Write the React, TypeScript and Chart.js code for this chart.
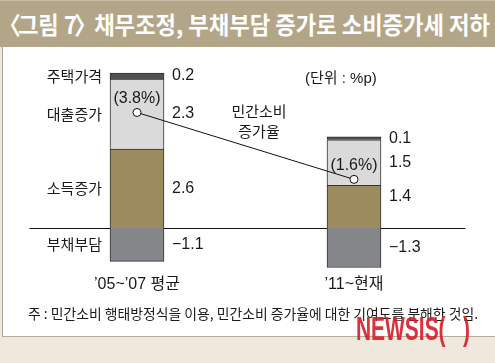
import React, { useEffect, useLayoutEffect, useRef } from "react";
import { Chart, registerables } from "chart.js";

Chart.register(...registerables);

const categories = ["’05~’07 평균", "’11~현재"];
const seriesNames = ["부채부담", "소득증가", "대출증가", "주택가격"];
const debtBurden = [-1.1, -1.3];
const incomeGrowth = [2.6, 1.4];
const loanGrowth = [2.3, 1.5];
const housePrice = [0.2, 0.1];
const consumptionGrowth = [3.8, 1.6];
const yMin = -1.5;
const yMax = 5.5;

const titleMain = "그림 7";
const titleRest = " 채무조정, 부채부담 증가로 소비증가세 저하";
const noteText = "주 : 민간소비 행태방정식을 이용, 민간소비 증가율에 대한 기여도를 분해한 것임.";

const seriesColors = ["#85868a", "#9c8b5e", "#dadada", "#505050"];

const fmt = (v: number) => (v < 0 ? "−" + Math.abs(v).toFixed(1) : v.toFixed(1));

const labelPlugin = {
  id: "labelPlugin",
  beforeDatasetsDraw(chart: any) {
    const ctx = chart.ctx;
    const y0 = chart.scales.y.getPixelForValue(0);
    const area = chart.chartArea;
    ctx.save();
    ctx.strokeStyle = "#111";
    ctx.lineWidth = 1;
    ctx.beginPath();
    ctx.moveTo(area.left + 1, Math.round(y0) + 0.5);
    ctx.lineTo(area.right + 3, Math.round(y0) + 0.5);
    ctx.stroke();
    ctx.restore();
  },
  afterDatasetsDraw(chart: any) {
    const ctx = chart.ctx;
    const shifts: Record<string, number> = { "1-1": -10 };
    ctx.save();
    ctx.fillStyle = "#1a1a1a";
    ctx.textBaseline = "middle";
    for (let i = 0; i < chart.data.datasets.length; i++) {
      const ds = chart.data.datasets[i];
      if (ds.type !== "bar") continue;
      const meta = chart.getDatasetMeta(i);
      meta.data.forEach((el: any, j: number) => {
        const p = el.getProps(["x", "y", "base", "width"], true);
        const yc = (p.y + p.base) / 2 + (shifts[`${ds.seriesIndex}-${j}`] || 0);
        ctx.font = '16px "Liberation Sans", "Noto Sans CJK KR", sans-serif';
        ctx.textAlign = "left";
        ctx.fillText(fmt(ds.data[j]), p.x + p.width / 2 + 8, yc);
        if (j === 0) {
          ctx.font = '15px "Noto Sans CJK KR", sans-serif';
          ctx.textAlign = "right";
          ctx.fillText(ds.label, p.x - p.width / 2 - 8, yc);
        }
      });
    }
    chart.data.datasets.forEach((ds: any, i: number) => {
      if (ds.type !== "line") return;
      const meta = chart.getDatasetMeta(i);
      meta.data.forEach((el: any, j: number) => {
        ctx.font = '16px "Liberation Sans", sans-serif';
        ctx.textAlign = "center";
        ctx.fillText("(" + ds.data[j].toFixed(1) + "%)", el.x, el.y - 14);
      });
    });
    const xs = chart.scales.x;
    ctx.font = '16px "Liberation Sans", "Noto Sans CJK KR", sans-serif';
    ctx.textAlign = "center";
    chart.data.labels.forEach((lab: string, j: number) => {
      ctx.fillText(lab, xs.getPixelForValue(j), chart.chartArea.bottom + 11);
    });
    ctx.restore();
  },
};

function FitText(props: { children: React.ReactNode; width: number; style: React.CSSProperties }) {
  const ref = useRef<HTMLSpanElement>(null);
  useLayoutEffect(() => {
    const el = ref.current;
    if (!el) return;
    el.style.transform = "none";
    const w = el.getBoundingClientRect().width;
    if (w > 0) el.style.transform = `scaleX(${props.width / w})`;
  }, [props.width]);
  return (
    <span
      ref={ref}
      style={{ display: "inline-block", whiteSpace: "pre", transformOrigin: "left center", ...props.style }}
    >
      {props.children}
    </span>
  );
}

export default function App() {
  const canvasRef = useRef<HTMLCanvasElement>(null);

  useEffect(() => {
    const seriesData = [debtBurden, incomeGrowth, loanGrowth, housePrice];
    const chart = new Chart(canvasRef.current as HTMLCanvasElement, {
      type: "bar",
      data: {
        labels: categories,
        datasets: [
          {
            type: "line",
            label: "민간소비 증가율",
            data: consumptionGrowth,
            borderColor: "#111",
            borderWidth: 1,
            pointRadius: 4,
            pointBackgroundColor: "#fff",
            pointBorderColor: "#111",
            pointBorderWidth: 1,
            stack: "line",
            order: 0,
          } as any,
          ...seriesData.map((d, k) => ({
            type: "bar",
            label: seriesNames[k],
            seriesIndex: k,
            data: d,
            backgroundColor: seriesColors[k],
            borderColor: "#333",
            borderWidth: 1,
            barThickness: 54,
            stack: "s",
            order: 1,
          })) as any,
        ],
      },
      options: {
        responsive: false,
        animation: false,
        devicePixelRatio: 1,
        layout: { padding: { top: 60.8, bottom: 89.4, left: 28.5, right: 32.5 } },
        plugins: { legend: { display: false }, tooltip: { enabled: false }, title: { display: false } },
        scales: {
          x: { stacked: true, display: false, offset: true, grid: { display: false } },
          y: { stacked: true, display: false, min: yMin, max: yMax, grid: { display: false } },
        },
      },
      plugins: [labelPlugin],
    });
    return () => chart.destroy();
  }, []);

  return (
    <div
      style={{
        position: "fixed",
        left: 0,
        top: 0,
        width: 495,
        height: 363,
        background: "#efe8dc",
        overflow: "hidden",
        fontFamily: '"Noto Sans CJK KR", sans-serif',
      }}
    >
      <div
        style={{
          position: "absolute",
          left: 0,
          top: 0,
          width: 495,
          height: 47,
          background: "#b3a688",
          borderTop: "1px solid #c9bda3",
          boxSizing: "border-box",
        }}
      >
        <div style={{ position: "absolute", left: 4, top: 8, lineHeight: "30px" }}>
          <FitText width={486} style={{ fontSize: 24, fontWeight: 700, color: "#fff" }}>
            <span style={{ marginLeft: -6, marginRight: -3 }}>〈</span>
            {titleMain}
            <span style={{ marginLeft: -3, marginRight: -8 }}>〉</span>
            {titleRest}
          </FitText>
        </div>
      </div>
      <div
        style={{
          position: "absolute",
          left: 2,
          top: 47,
          width: 493,
          height: 290,
          background: "#fff",
          borderLeft: "1px solid #a8a39a",
          borderBottom: "1px solid #b5ad9f",
          boxSizing: "border-box",
        }}
      />
      <canvas
        ref={canvasRef}
        width={495}
        height={363}
        style={{ position: "absolute", left: 0, top: 0, width: 495, height: 363 }}
      />
      <div style={{ position: "absolute", left: 305, top: 68, fontSize: 15, lineHeight: "20px", color: "#1a1a1a", fontFamily: '"Liberation Sans", "Noto Sans CJK KR", sans-serif' }}>
        (단위 : %p)
      </div>
      <div style={{ position: "absolute", left: 219, top: 101, width: 80, textAlign: "center", fontSize: 15, lineHeight: "20px", color: "#1a1a1a" }}>
        민간소비<br />증가율
      </div>
      <div style={{ position: "absolute", left: 28, top: 302, lineHeight: "20px" }}>
        <FitText width={450} style={{ fontSize: 14, color: "#1a1a1a" }}>{noteText}</FitText>
      </div>
      <div style={{ position: "absolute", left: 356, top: 310, lineHeight: "36px", opacity: 0.92 }}>
        <FitText width={114} style={{ fontSize: 34, fontWeight: 700, color: "#d8202a", fontFamily: '"Liberation Sans", sans-serif' }}>
          {"NEWSIS(   )"}
        </FitText>
      </div>
    </div>
  );
}
